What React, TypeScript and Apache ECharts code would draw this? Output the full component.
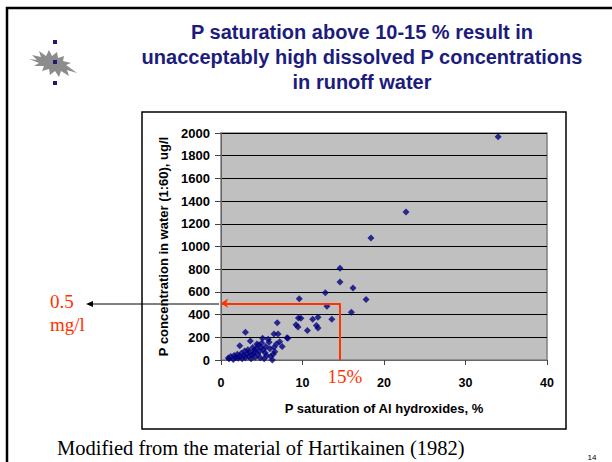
import React, { useEffect, useRef } from "react";
import * as echarts from "echarts";

const titleLines = [
  "P saturation above 10-15 % result in",
  "unacceptably high dissolved P concentrations",
  "in runoff water",
];
const xAxisName = "P saturation of Al hydroxides, %";
const yAxisName = "P concentration in water (1:60), ug/l";
const footer = "Modified from the material of Hartikainen (1982)";
const pageNumber = "14";

// P saturation (%) and P concentration (ug/l)
const clusterPoints: [number, number][] = [
  [0.9, 18], [1.0, 10], [1.2, 30], [1.5, 5], [1.6, 40], [1.8, 20], [2.0, 50],
  [2.1, 15], [2.3, 30], [2.3, 126], [2.5, 60], [2.6, 10], [2.8, 40], [2.9, 80],
  [3.0, 244], [3.0, 20], [3.2, 55], [3.3, 90], [3.4, 30], [3.5, 70], [3.6, 167],
  [3.7, 10], [3.8, 45], [3.9, 110], [4.0, 60], [4.1, 85], [4.2, 25], [4.3, 100],
  [4.4, 140], [4.5, 50], [4.6, 132], [4.7, 75], [4.8, 20], [4.9, 110], [5.0, 150],
  [5.1, 191], [5.2, 90], [5.3, 11], [5.4, 64], [5.5, 120], [5.6, 40], [5.8, 182],
  [5.9, 156], [6.0, 100], [6.1, 30], [6.3, 0], [6.4, 50], [6.5, 112], [6.5, 229],
  [6.6, 73], [6.8, 140], [6.9, 329], [7.0, 229], [7.2, 161], [7.5, 120], [8.2, 191],
];
const spreadPoints: [number, number][] = [
  [8.1, 197], [9.2, 311], [9.45, 291], [9.5, 370], [9.8, 368], [9.6, 540],
  [10.6, 261], [11.25, 358], [11.7, 305], [11.9, 282], [11.9, 376], [12.8, 593],
  [13.0, 473], [13.6, 358], [14.6, 808], [14.6, 687], [16.0, 420], [16.2, 634],
  [17.8, 534], [18.4, 1075], [22.7, 1304], [34.0, 1967],
];
const thresholdX = [14.6];
const thresholdY = [500];
const xTicks = { min: 0, max: 40, interval: 10 };
const yTicks = { min: 0, max: 2000, interval: 200 };

const logoPath =
  "M0,12 L8,13 L3,8 L12,10 L10,4 L17,9 L20,3 L23,9 L28,5 L29,11 L35,9 L34,14 L42,16 L37,18 L48,26 L38,23 L40,29 L32,24 L30,30 L26,24 L21,28 L20,22 L13,24 L15,19 L5,19 L10,16 Z";

export default function App() {
  const ref = useRef<HTMLDivElement>(null);
  useEffect(() => {
    if (!ref.current) return;
    try {
      echarts.graphic.registerShape("logo", echarts.graphic.extendPath(logoPath, {}));
    } catch (e) {}
    const chart = echarts.init(ref.current, null, { renderer: "svg" });
    const red = "#FF3300";
    const navy = "#1C1C7C";
    const sans = "Liberation Sans, Arial, sans-serif";
    const serif = "Liberation Serif, Times New Roman, serif";
    chart.setOption({
      animation: false,
      backgroundColor: "#ffffff",
      grid: {
        left: 221,
        right: 65,
        top: 133,
        bottom: 102,
        show: true,
        backgroundColor: "#C0C0C0",
        borderColor: "#808080",
        borderWidth: 1.5,
      },
      xAxis: {
        type: "value",
        min: xTicks.min,
        max: xTicks.max,
        interval: xTicks.interval,
        name: xAxisName,
        nameLocation: "middle",
        nameGap: 42,
        nameTextStyle: { fontFamily: sans, fontWeight: "bold", fontSize: 13, color: "#000" },
        axisLine: { show: true, lineStyle: { color: "#666", width: 1 } },
        axisTick: { show: true, length: 5, lineStyle: { color: "#444" } },
        axisLabel: {
          fontFamily: sans,
          fontWeight: "bold",
          fontSize: 12.5,
          color: "#000",
          margin: 16,
          formatter: (v: number) => String(v),
        },
        splitLine: { show: false },
      },
      yAxis: {
        type: "value",
        min: yTicks.min,
        max: yTicks.max,
        interval: yTicks.interval,
        name: yAxisName,
        nameLocation: "middle",
        nameGap: 51,
        nameTextStyle: { fontFamily: sans, fontWeight: "bold", fontSize: 13, color: "#000" },
        axisLine: { show: true, lineStyle: { color: "#666", width: 1 } },
        axisTick: { show: true, length: 6, lineStyle: { color: "#444" } },
        axisLabel: {
          fontFamily: sans,
          fontWeight: "bold",
          fontSize: 13,
          color: "#000",
          margin: 11,
          formatter: (v: number) => String(v),
        },
        splitLine: { show: true, lineStyle: { color: "#000", width: 1 } },
      },
      series: [
        {
          type: "scatter",
          symbol: "diamond",
          symbolSize: 7,
          itemStyle: { color: "#000080" },
          data: [...clusterPoints, ...spreadPoints],
          markLine: {
            silent: true,
            animation: false,
            symbol: ["none", "none"],
            label: { show: false },
            lineStyle: { color: red, width: 2, type: "solid" },
            data: [
              [
                { coord: [thresholdX[0], 0], symbol: "none" },
                { coord: [thresholdX[0], thresholdY[0]], symbol: "none" },
              ],
              [
                { coord: [thresholdX[0], thresholdY[0]], symbol: "none" },
                { coord: [0, thresholdY[0]], symbol: "arrow", symbolSize: 7 },
              ],
            ],
          },
        },
      ],
      graphic: [
        {
          type: "rect",
          shape: { x: 7, y: 8, width: 700, height: 600 },
          style: { fill: "none", stroke: "#000", lineWidth: 2.5 },
          silent: true,
        },
        {
          type: "rect",
          shape: { x: 142, y: 112, width: 424, height: 317 },
          style: { fill: "none", stroke: "#000", lineWidth: 1.5 },
          silent: true,
        },
        ...titleLines.map((t, i) => ({
          type: "text",
          x: 362,
          y: 32 + i * 25,
          style: {
            text: t,
            fill: navy,
            font: `bold 20px ${sans}`,
            textAlign: "center",
            textVerticalAlign: "middle",
          },
        })),
        {
          type: "logo",
          x: 29,
          y: 47,
          scaleX: 1,
          scaleY: 1,
          style: { fill: "#8C8C8C" },
        },
        ...[42, 62, 83].map((yy) => ({
          type: "rect",
          shape: { x: 53, y: yy - 2, width: 4, height: 4 },
          style: { fill: "#1C1C6C" },
        })),
        {
          type: "line",
          shape: { x1: 219, y1: 304, x2: 92, y2: 304 },
          style: { stroke: "#000", lineWidth: 1 },
        },
        {
          type: "polygon",
          shape: { points: [[86, 304], [93, 301], [93, 307]] },
          style: { fill: "#000" },
        },
        {
          type: "text",
          x: 50,
          y: 301,
          style: { text: "0.5", fill: red, font: `19px ${serif}`, textVerticalAlign: "middle" },
        },
        {
          type: "text",
          x: 50,
          y: 324,
          style: { text: "mg/l", fill: red, font: `19px ${serif}`, textVerticalAlign: "middle" },
        },
        {
          type: "text",
          x: 345,
          y: 376,
          style: {
            text: "15%",
            fill: red,
            font: `19px ${serif}`,
            textAlign: "center",
            textVerticalAlign: "middle",
          },
        },
        {
          type: "text",
          x: 57,
          y: 448,
          style: { text: footer, fill: "#000", font: `20.5px ${serif}`, textVerticalAlign: "middle" },
        },
        {
          type: "text",
          x: 592,
          y: 457,
          style: {
            text: pageNumber,
            fill: "#000",
            font: `8px ${sans}`,
            textAlign: "center",
            textVerticalAlign: "middle",
          },
        },
      ],
    });
    return () => chart.dispose();
  }, []);
  return (
    <div
      ref={ref}
      style={{ position: "fixed", left: 0, top: 0, width: 612, height: 462 }}
    />
  );
}
